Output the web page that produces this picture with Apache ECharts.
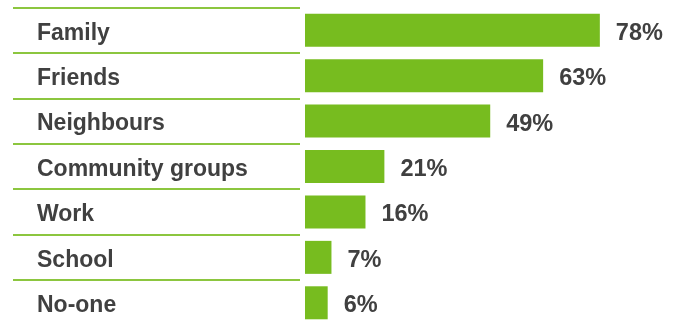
<!DOCTYPE html>
<html><head><meta charset="utf-8">
<script src="https://cdn.jsdelivr.net/npm/echarts@6/dist/echarts.min.js"></script>
<style>html,body{margin:0;padding:0;background:#fff}#c{width:681px;height:323px}</style>
</head><body><div id="c"></div>
<script>
const categories = ["Family","Friends","Neighbours","Community groups","Work","School","No-one"];
const values = [78,63,49,21,16,7,6];

const chart = echarts.init(document.getElementById('c'), null, {renderer:'canvas'});
const font = 'Liberation Sans, Arial, Helvetica, sans-serif';
const txt = {color:'#404040', fontWeight:'bold', fontFamily:font};
chart.setOption({
  animation:false,
  grid:[
    {left:305, width:378, top:7.5, height:318, outerBoundsMode:'none', containLabel:false},
    {left:13, width:287, top:7.5, height:318, outerBoundsMode:'none', containLabel:false}
  ],
  xAxis:[
    {gridIndex:0, type:'value', min:0, max:100, show:false},
    {gridIndex:1, type:'value', min:0, max:1, show:false}
  ],
  yAxis:[
    {gridIndex:0, type:'category', data:categories, inverse:true,
     axisLine:{show:false}, axisTick:{show:false}, axisLabel:{show:false}, splitLine:{show:false}},
    {gridIndex:1, type:'category', data:categories, inverse:true,
     axisLine:{show:false}, axisTick:{show:false},
     axisLabel:{show:true, inside:true, margin:24, align:'left',
       formatter: v => '{t|' + v + '}',
       rich:{t:Object.assign({fontSize:23, lineHeight:23, padding:[6,0,0,0]}, txt)}},
     splitLine:{show:true, lineStyle:{color:'#8cc63f', width:2}}}
  ],
  series:[{
    type:'bar', xAxisIndex:0, yAxisIndex:0, data:values, barWidth:33,
    itemStyle:{color:'#77bc1f'},
    label:{show:true, position:'right', distance:16, formatter:'{t|{c}%}',
      rich:{t:Object.assign({fontSize:23.5, lineHeight:24, padding:[6,0,0,0]}, txt)}}
  }]
});
</script></body></html>
